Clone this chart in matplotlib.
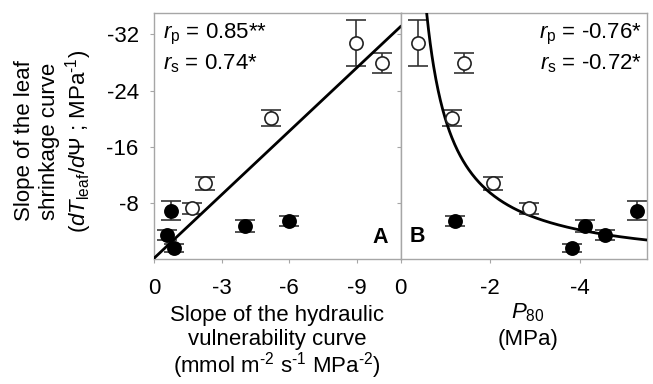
import numpy as np
import matplotlib
matplotlib.use("Agg")
import matplotlib.pyplot as plt

plt.rcParams['font.family'] = ['Liberation Sans', 'DejaVu Sans']
plt.rcParams['mathtext.fontset'] = 'custom'
plt.rcParams['mathtext.rm'] = 'Liberation Sans'
plt.rcParams['mathtext.it'] = 'Liberation Sans:italic'
plt.rcParams['mathtext.bf'] = 'Liberation Sans:bold'

# Leaf shrinkage slope (y, shared by both panels) and its error
open_y = [-30.8, -27.9, -20.1, -10.8, -7.2]
open_err = [3.3, 1.4, 1.1, 0.9, 0.8]
filled_y = [-6.9, -3.4, -1.6, -4.7, -5.4]
filled_err = [1.3, 0.7, 0.6, 0.9, 0.7]

# Panel A: slope of the hydraulic vulnerability curve
open_xa = [-8.95, -10.1, -5.17, -2.26, -1.70]
filled_xa = [-0.74, -0.56, -0.89, -4.03, -6.0]

# Panel B: P80
open_xb = [-0.38, -1.41, -1.15, -2.07, -2.87]
filled_xb = [-5.27, -4.57, -3.82, -4.11, -1.21]

# Fitted relationships
lin_slope, lin_icpt = 3.02, -0.1          # panel A: y = slope*x + icpt
hyp_a, hyp_c = 21.13, -1.14               # panel B: y = -(a/|x| + c)

xticks_a = [0, -3, -6, -9]
xticks_b = [0, -2, -4]
yticks = [-32, -24, -16, -8]

W, H = 653, 384
fig = plt.figure(figsize=(W / 100, H / 100), dpi=100)
axA = fig.add_axes([154 / W, (H - 259) / H, 246.5 / W, 246 / H])
axB = fig.add_axes([400.5 / W, (H - 259) / H, 246.5 / W, 246 / H])

spine_col = '#a6a6a6'
fs = 16

def draw_points(ax, xo, xf):
    ax.errorbar(xo, open_y, yerr=open_err, fmt='none', ecolor='#333333',
                elinewidth=1.2, capsize=7.5, capthick=1.2, zorder=2)
    ax.errorbar(xf, filled_y, yerr=filled_err, fmt='none', ecolor='#333333',
                elinewidth=1.2, capsize=7.5, capthick=1.2, zorder=2)
    ax.plot(xo, open_y, 'o', ms=9.5, mfc='white', mec='#222222', mew=1.2, zorder=4)
    ax.plot(xf, filled_y, 'o', ms=9.5, mfc='black', mec='black', mew=1.2, zorder=4)

def style(ax):
    for s in ax.spines.values():
        s.set_color(spine_col)
        s.set_linewidth(1.0)
    ax.tick_params(direction='out', length=3, width=0.8, color=spine_col,
                   labelsize=fs)
    ax.tick_params(axis='x', pad=11)
    ax.tick_params(axis='y', pad=8)
    ax.set_ylim(0, -35.05)

# Panel A
draw_points(axA, open_xa, filled_xa)
xl = np.array([0, -10.93])
axA.plot(xl, lin_slope * xl + lin_icpt, color='black', lw=2, zorder=3)
axA.set_xlim(0, -10.93)
style(axA)
axA.set_xticks(xticks_a)
axA.set_xticklabels([str(v) for v in xticks_a])
axA.set_yticks(yticks)
axA.set_yticklabels([str(v) for v in yticks])
axA.text(0.035, 0.965, r'$\it{r}_{\rm p}$ = 0.85**', transform=axA.transAxes,
         fontsize=fs, va='top', ha='left')
axA.text(0.035, 0.84, r'$\it{r}_{\rm s}$ = 0.74*', transform=axA.transAxes,
         fontsize=fs, va='top', ha='left')
axA.text(0.95, 0.045, 'A', transform=axA.transAxes, fontsize=15.5,
         fontweight='bold', ha='right', va='bottom')

# Panel B
draw_points(axB, open_xb, filled_xb)
xc = np.linspace(-0.55, -5.6, 400)
axB.plot(xc, -(hyp_a / np.abs(xc) + hyp_c), color='black', lw=2, zorder=3)
axB.set_xlim(0, -5.5)
style(axB)
axB.set_xticks(xticks_b)
axB.set_xticklabels([str(v) for v in xticks_b])
axB.set_yticks(yticks)
axB.set_yticklabels([])
axB.text(0.98, 0.965, r'$\it{r}_{\rm p}$ = -0.76*', transform=axB.transAxes,
         fontsize=fs, va='top', ha='right')
axB.text(0.98, 0.84, r'$\it{r}_{\rm s}$ = -0.72*', transform=axB.transAxes,
         fontsize=fs, va='top', ha='right')
axB.text(0.035, 0.05, 'B', transform=axB.transAxes, fontsize=15.5,
         fontweight='bold', ha='left', va='bottom')

# Y-axis label (three lines)
yc = (H - 141) / H
fig.text(25 / W, yc, 'Slope of the leaf', rotation=90, fontsize=fs,
         ha='center', va='center')
fig.text(50 / W, yc, 'shrinkage curve', rotation=90, fontsize=fs,
         ha='center', va='center')
fig.text(79 / W, yc, r'($\it{dT}_{\rm leaf}$/$\it{d}\Psi$ ; MPa$^{\text{-1}}$)',
         rotation=90, fontsize=fs, ha='center', va='center')

# X-axis labels
xa_c = 277 / W
fig.text(xa_c, (H - 315) / H, 'Slope of the hydraulic', fontsize=fs,
         ha='center', va='center')
fig.text(xa_c, (H - 340) / H, 'vulnerability curve', fontsize=fs,
         ha='center', va='center')
fig.text(xa_c, (H - 366) / H,
         r'(mmol m$^{\text{-2}}$ s$^{\text{-1}}$ MPa$^{\text{-2}}$)',
         fontsize=fs, ha='center', va='center')
xb_c = 528 / W
fig.text(xb_c, (H - 313) / H, r'$\it{P}_{\rm 80}$', fontsize=fs,
         ha='center', va='center')
fig.text(xb_c, (H - 340) / H, '(MPa)', fontsize=fs, ha='center', va='center')

fig.savefig('out.png', dpi=100)
